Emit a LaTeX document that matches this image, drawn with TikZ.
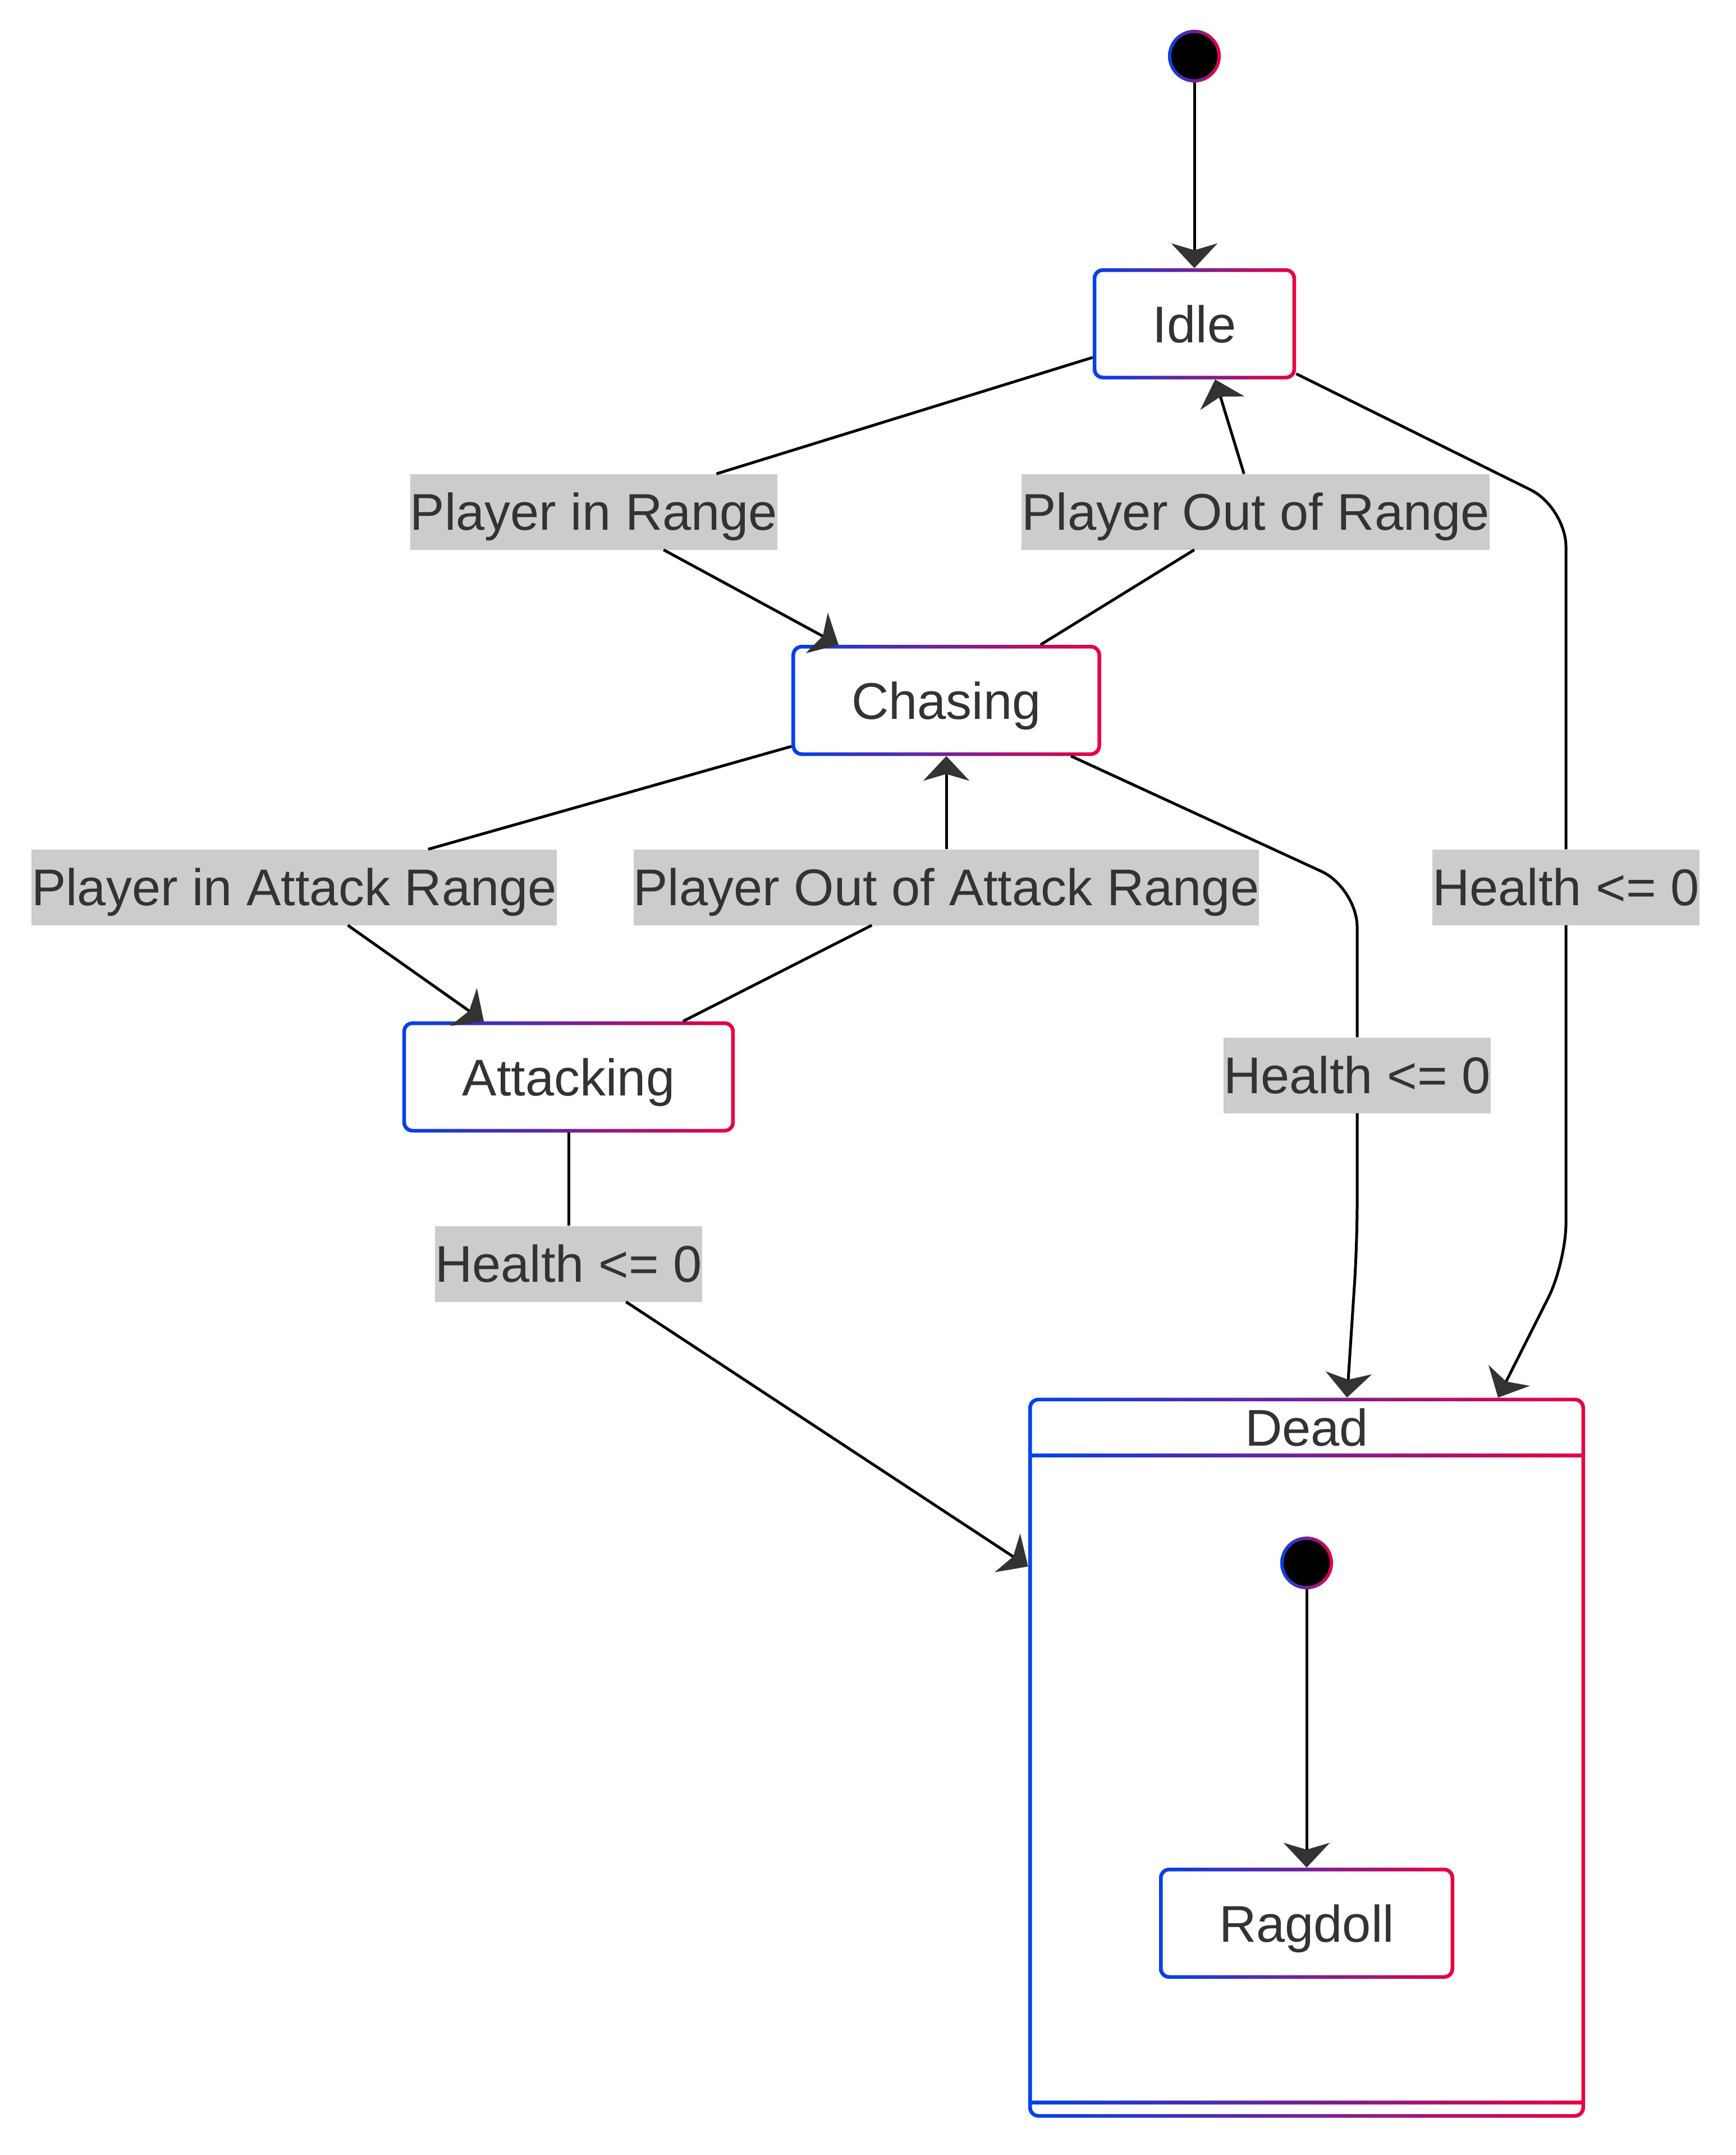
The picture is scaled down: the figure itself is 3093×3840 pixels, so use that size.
\documentclass[tikz,border=0pt]{standalone}
\usepackage{fontspec}
\setmainfont{Liberation Sans}
\usepackage{tikz}
\usetikzlibrary{positioning,arrows.meta}
\usepackage{xcolor}
\definecolor{gblue}{RGB}{0,66,235}
\definecolor{gred}{RGB}{235,0,66}
\definecolor{txtgray}{RGB}{51,51,51}
\definecolor{lblgray}{RGB}{204,204,204}
\tikzset{
  gradedge/.style={fill=white,path picture={
      \shade[left color=gblue,right color=gred]
        (path picture bounding box.south west) rectangle (path picture bounding box.north east);
      \fill[white,rounded corners=12pt]
        ([xshift=6.5pt,yshift=-6.5pt]path picture bounding box.north west) rectangle
        ([xshift=-6.5pt,yshift=6.5pt]path picture bounding box.south east);
    }},
  statebox/.style={gradedge,rectangle,rounded corners=18pt,minimum height=198pt,
    inner xsep=107pt,inner ysep=0pt,text height=66pt,text depth=0pt},
  superbox/.style={gradedge,rectangle,rounded corners=18pt,inner sep=0pt,
    minimum width=992pt,minimum height=1283pt},
  startdot/.style={circle,minimum size=94pt,inner sep=0pt,fill=white,path picture={
      \shade[left color=gblue,right color=gred]
        (path picture bounding box.south west) rectangle (path picture bounding box.north east);
      \fill[black] (path picture bounding box.center) circle (41pt);
    }},
  trans/.style={fill=lblgray,inner sep=0pt,text height=100pt,text depth=35pt},
  line/.style={draw=black,line width=5pt,line join=round},
  arr/.style={-{Stealth[length=44pt,width=82pt,inset=12pt,color=txtgray]}},
  gradbar/.style={left color=gblue,right color=gred},
}

\begin{document}
\begin{tikzpicture}[x=1pt,y=-1pt,text=txtgray,font=\fontsize{92pt}{110pt}\selectfont]
\useasboundingbox (0,0) rectangle (3093,3840);

% states
\node[startdot] (start) at (2128,100) {};
\node[statebox] (idle) at (2128,577) {Idle};
\node[statebox] (chasing) at (1686,1248) {Chasing};
\node[statebox] (attacking) at (1013,1919) {Attacking};

% composite state
\node[superbox] (dead) at (2328,3132) {};
\shade[gradbar] ([yshift=-100pt]dead.north west) rectangle ([yshift=-106pt]dead.north east);
\shade[gradbar] ([yshift=24pt]dead.south west) rectangle ([yshift=30pt]dead.south east);
\node[text height=66pt,text depth=0pt,inner sep=0pt] (deadlbl) at (2328,2543) {Dead};
\node[startdot] (istart) at (2328,2785) {};
\node[statebox] (ragdoll) at (2328,3427) {Ragdoll};

% transition labels
\node[trans] (lPIR) at (1058,912) {Player in Range};
\node[trans] (lPOR) at (2237,912) {Player Out of Range};
\node[trans] (lPIAR) at (524,1581) {Player in Attack Range};
\node[trans] (lPOAR) at (1686,1581) {Player Out of Attack Range};
\node[trans] (lHidle) at (2790,1581) {Health <= 0};
\node[trans] (lHchase) at (2418,1916) {Health <= 0};
\node[trans] (lHatk) at (1013,2252) {Health <= 0};

% transitions
\path[line]
  (start) edge[arr] (idle)
  (istart) edge[arr] (ragdoll);

\draw[line] ([yshift=-60pt]idle.west) -- (lPIR);
\draw[line,arr] (lPIR) -- ([xshift=-192pt]chasing.north);

\draw[line] ([xshift=168pt]chasing.north) -- (lPOR);
\draw[line,arr] (lPOR) -- ([xshift=37pt]idle.south);

\draw[line,rounded corners=70pt] ([yshift=-89pt]idle.east) -- (2790,904) -- (lHidle);
\draw[line,arr,rounded corners=70pt] (lHidle) -- (2790,2250) -- ([xshift=341pt]dead.north);

\draw[line,rounded corners=70pt] ([xshift=222pt]chasing.south) -- (2418,1582) -- (lHchase);
\draw[line,arr,rounded corners=70pt] (lHchase) -- (2418,2216) -- ([xshift=72pt]dead.north);

\draw[line] ([yshift=-82pt]chasing.west) -- (lPIAR);
\draw[line,arr] (lPIAR) -- ([xshift=-151pt]attacking.north);

\draw[line] ([xshift=204pt]attacking.north) -- (lPOAR);
\draw[line,arr] (lPOAR) -- (chasing.south);

\draw[line] (attacking.south) -- (lHatk);
\draw[line,arr] (lHatk) -- ([yshift=-301pt]dead.north west);

\end{tikzpicture}
\end{document}
